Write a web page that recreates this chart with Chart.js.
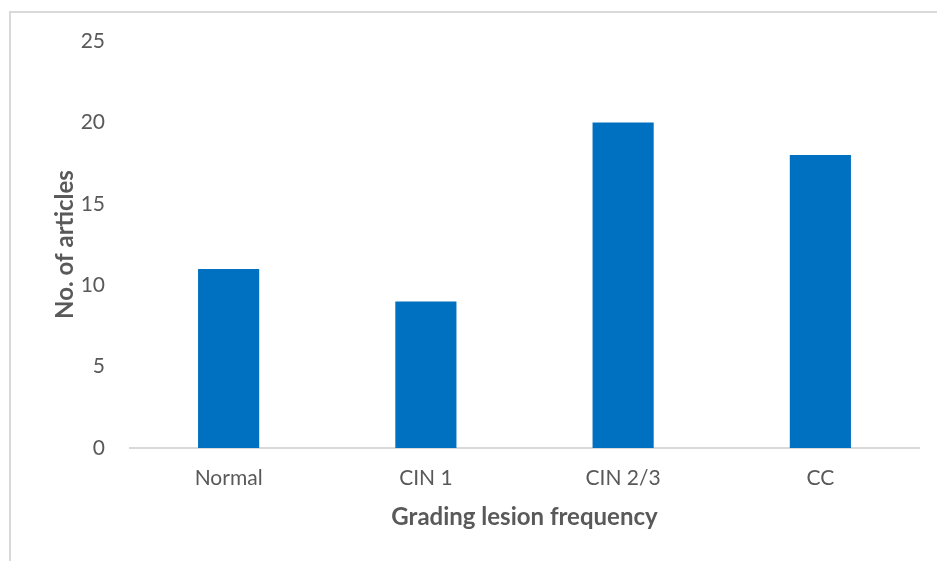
<!DOCTYPE html>
<html>
<head>
<meta charset="utf-8">
<script src="https://cdn.jsdelivr.net/npm/chart.js@4/dist/chart.umd.min.js"></script>
<style>
  body { margin: 0; background: #fff; }
  #wrap { position: relative; width: 937px; height: 561px; }
</style>
</head>
<body>
<div id="wrap"><canvas id="myChart" width="937" height="561"></canvas></div>
<script>
var grades = ['Normal', 'CIN 1', 'CIN 2/3', 'CC'];
var articles = [11, 9, 20, 18];
var yTicks = [0, 5, 10, 15, 20, 25];

var textGrey = '#595959';

// light frame like the one around the original figure
var framePlugin = {
  id: 'frame',
  beforeDraw: function (chart) {
    var c = chart.ctx;
    c.save();
    c.fillStyle = '#fff';
    c.fillRect(0, 0, chart.width, chart.height);
    c.strokeStyle = '#d9d9d9';
    c.lineWidth = 2;
    c.strokeRect(10, 12, 1000, 1000);
    c.restore();
  }
};

var ctx = document.getElementById('myChart');
var myChart = new Chart(ctx, {
  type: 'bar',
  data: {
    labels: grades,
    datasets: [{
      label: 'No. of articles',
      data: articles,
      backgroundColor: '#0070c0',
      borderWidth: 0,
      barPercentage: 0.31,
      categoryPercentage: 1
    }]
  },
  options: {
    responsive: false,
    animation: false,
    layout: { padding: { left: 0, top: 41, right: 18, bottom: 0 } },
    plugins: {
      legend: { display: false },
      tooltip: { enabled: false }
    },
    scales: {
      x: {
        grid: { display: false, drawTicks: false },
        border: { display: true, color: '#d9d9d9', width: 2 },
        ticks: {
          color: textGrey,
          padding: 18,
          font: { family: 'Lato', size: 21 }
        },
        title: {
          display: true,
          text: 'Grading lesion frequency',
          color: textGrey,
          font: { family: 'Lato', size: 24, weight: 'bold' },
          padding: { top: 0, bottom: 29 }
        },
        afterFit: function (scale) { scale.height = 113; }
      },
      y: {
        min: 0,
        max: 25,
        grid: { display: false, drawTicks: false },
        border: { display: false },
        afterBuildTicks: function (scale) {
          scale.ticks = yTicks.map(function (v) { return { value: v }; });
        },
        ticks: {
          color: textGrey,
          padding: 25,
          font: { family: 'Lato', size: 21 }
        },
        title: {
          display: true,
          text: 'No. of articles',
          color: textGrey,
          font: { family: 'Lato', size: 24, weight: 'bold' },
          padding: { top: 51, bottom: 0 }
        },
        afterFit: function (scale) { scale.width = 130; }
      }
    }
  },
  plugins: [framePlugin]
});
</script>
</body>
</html>
